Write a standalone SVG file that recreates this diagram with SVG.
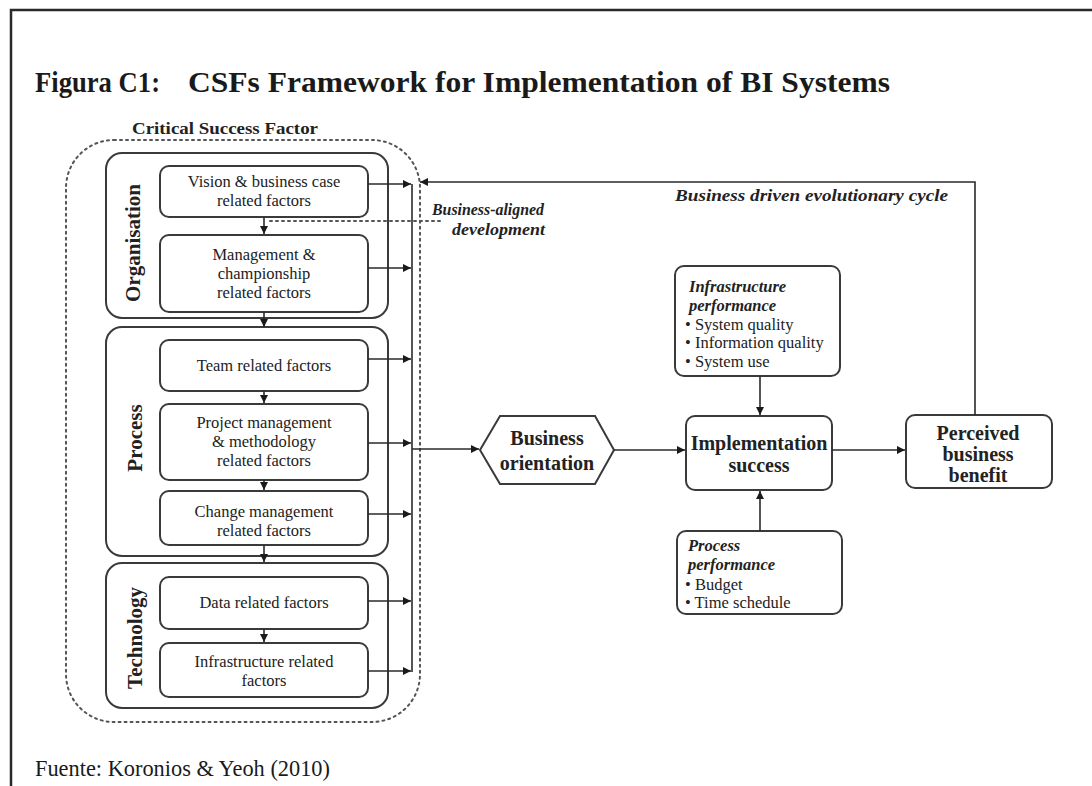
<svg xmlns="http://www.w3.org/2000/svg" width="1092" height="786" viewBox="0 0 1092 786">
<defs>
<style>
.frame{fill:none;stroke:#2a2a2a;stroke-width:2.5}
.grp{fill:none;stroke:#3a3a3a;stroke-width:2}
.box{fill:#fff;stroke:#3a3a3a;stroke-width:2}
.ln{fill:none;stroke:#2a2a2a;stroke-width:1.6}
.dot{fill:none;stroke:#555;stroke-width:2;stroke-dasharray:2 4;stroke-linecap:round}
.t{font-family:"Liberation Serif","Times New Roman",serif;fill:#222;font-size:16.5px;text-anchor:middle}
.s{text-anchor:start}
.b{font-weight:bold}
.i{font-style:italic;font-weight:bold}
.side{font-family:"Liberation Serif",serif;font-weight:bold;font-size:21px;fill:#222;text-anchor:middle}
.big{font-family:"Liberation Serif",serif;font-weight:bold;font-size:20px;fill:#222;text-anchor:middle}
.ttl{font-family:"Liberation Serif",serif;font-weight:bold;font-size:29px;fill:#1a1a1a}
</style>
<marker id="ah" viewBox="0 0 10 10" refX="10" refY="5" markerWidth="8" markerHeight="8" markerUnits="userSpaceOnUse" orient="auto">
<path d="M0,0 L10,5 L0,10 z" fill="#1a1a1a"/>
</marker>
</defs>
<rect width="1092" height="786" fill="#fff"/>
<path class="frame" d="M11,786 V10 H1092"/>
<text class="ttl" x="35" y="92" textLength="125" lengthAdjust="spacingAndGlyphs">Figura C1:</text>
<text class="ttl" x="188" y="92" textLength="702" lengthAdjust="spacingAndGlyphs">CSFs Framework for Implementation of BI Systems</text>
<text class="t b s" x="132" y="134" font-size="19" textLength="186" lengthAdjust="spacingAndGlyphs">Critical Success Factor</text>
<rect class="dot" x="66" y="140" width="354" height="582" rx="48"/>
<g id="organisation">
<rect class="grp" x="106" y="153" width="282" height="165" rx="16"/>
<text class="side" transform="translate(140,243) rotate(-90)">Organisation</text>
</g>
<g id="vision"><rect class="box" x="160" y="166" width="208" height="51" rx="9"/>
<text class="t" x="264" y="187">Vision &amp; business case</text><text class="t" x="264" y="206">related factors</text></g>
<g id="management"><rect class="box" x="160" y="235" width="208" height="77" rx="9"/>
<text class="t" x="264" y="260">Management &amp;</text><text class="t" x="264" y="279">championship</text><text class="t" x="264" y="298">related factors</text></g>
<g id="process">
<rect class="grp" x="106" y="327" width="282" height="229" rx="16"/>
<text class="side" transform="translate(142,438) rotate(-90)">Process</text>
</g>
<g id="team"><rect class="box" x="160" y="340" width="208" height="51" rx="9"/>
<text class="t" x="264" y="371">Team related factors</text></g>
<g id="project"><rect class="box" x="160" y="404" width="208" height="76" rx="9"/>
<text class="t" x="264" y="428">Project management</text><text class="t" x="264" y="447">&amp; methodology</text><text class="t" x="264" y="466">related factors</text></g>
<g id="change"><rect class="box" x="160" y="491" width="208" height="54" rx="9"/>
<text class="t" x="264" y="517">Change management</text><text class="t" x="264" y="536">related factors</text></g>
<g id="technology">
<rect class="grp" x="106" y="563" width="282" height="145" rx="16"/>
<text class="side" transform="translate(142,638) rotate(-90)">Technology</text>
</g>
<g id="data"><rect class="box" x="160" y="577" width="208" height="52" rx="9"/>
<text class="t" x="264" y="608">Data related factors</text></g>
<g id="infrastructure"><rect class="box" x="160" y="643" width="208" height="54" rx="9"/>
<text class="t" x="264" y="667">Infrastructure related</text><text class="t" x="264" y="686">factors</text></g>
<g id="business-orientation">
<polygon class="box" points="480,450 500,416 595,416 614,450 595,484 500,484"/>
<text class="big" x="547" y="445">Business</text><text class="big" x="547" y="470">orientation</text></g>
<g id="implementation-success"><rect class="box" x="686" y="416" width="146" height="74" rx="9"/>
<text class="big" x="759" y="450">Implementation</text><text class="big" x="759" y="472">success</text></g>
<g id="infrastructure-performance"><rect class="box" x="675" y="266" width="165" height="110" rx="9"/>
<text class="t i s" x="689" y="292">Infrastructure</text><text class="t i s" x="689" y="311">performance</text>
<text class="t s" x="685" y="330">• System quality</text><text class="t s" x="685" y="348">• Information quality</text><text class="t s" x="685" y="367">• System use</text></g>
<g id="process-performance"><rect class="box" x="677" y="531" width="165" height="83" rx="9"/>
<text class="t i s" x="688" y="551">Process</text><text class="t i s" x="688" y="570">performance</text>
<text class="t s" x="685" y="590">• Budget</text><text class="t s" x="685" y="608">• Time schedule</text></g>
<g id="perceived-benefit"><rect class="box" x="906" y="415" width="146" height="73" rx="9"/>
<text class="big" x="978" y="440">Perceived</text><text class="big" x="978" y="461">business</text><text class="big" x="978" y="482">benefit</text></g>
<g id="connectors">
<path class="ln" d="M264,217 V234" marker-end="url(#ah)"/>
<path class="ln" d="M264,312 V327" marker-end="url(#ah)"/>
<path class="ln" d="M264,391 V403" marker-end="url(#ah)"/>
<path class="ln" d="M264,480 V490" marker-end="url(#ah)"/>
<path class="ln" d="M264,545 V562" marker-end="url(#ah)"/>
<path class="ln" d="M264,629 V642" marker-end="url(#ah)"/>
<path class="ln" d="M368,184 H411" marker-end="url(#ah)"/>
<path class="ln" d="M368,268 H411" marker-end="url(#ah)"/>
<path class="ln" d="M368,359 H411" marker-end="url(#ah)"/>
<path class="ln" d="M368,443 H411" marker-end="url(#ah)"/>
<path class="ln" d="M368,514 H411" marker-end="url(#ah)"/>
<path class="ln" d="M368,601 H411" marker-end="url(#ah)"/>
<path class="ln" d="M368,671 H411" marker-end="url(#ah)"/>
<path class="ln" d="M412,184 V672"/>
<path class="ln" d="M412,449 H479" marker-end="url(#ah)"/>
<path class="ln" d="M614,450 H685" marker-end="url(#ah)"/>
<path class="ln" d="M760,376 V415" marker-end="url(#ah)"/>
<path class="ln" d="M760,531 V491" marker-end="url(#ah)"/>
<path class="ln" d="M832,450 H905" marker-end="url(#ah)"/>
<path class="ln" d="M975,415 V182 H420" marker-end="url(#ah)"/>
<path class="dot" d="M270,221 H442" stroke-width="1.6"/>
</g>
<text class="t i s" x="432" y="215" font-size="15" textLength="112" lengthAdjust="spacingAndGlyphs">Business-aligned</text>
<text class="t i s" x="452" y="235" font-size="15" textLength="93" lengthAdjust="spacingAndGlyphs">development</text>
<text class="t i s" x="675" y="201" font-size="15" textLength="273" lengthAdjust="spacingAndGlyphs">Business driven evolutionary cycle</text>
<text x="35" y="776" font-family="'Liberation Serif', serif" font-size="24" fill="#1a1a1a" textLength="295" lengthAdjust="spacingAndGlyphs">Fuente: Koronios &amp; Yeoh (2010)</text>
</svg>
